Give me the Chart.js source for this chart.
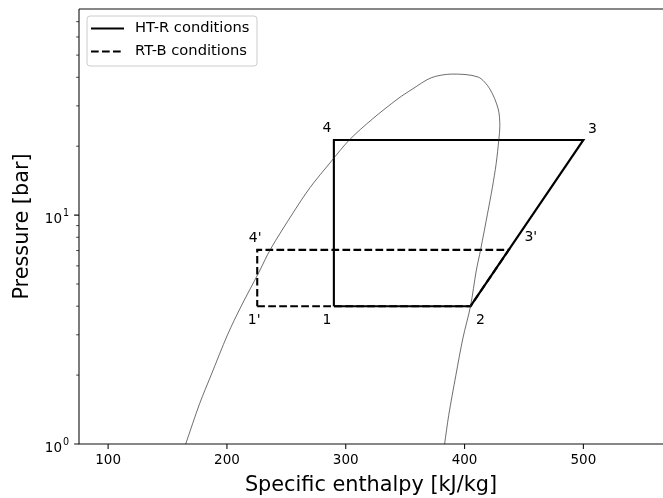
<!DOCTYPE html>
<html>
<head>
<meta charset="utf-8">
<title>Pressure–enthalpy diagram</title>
<script src="https://cdn.jsdelivr.net/npm/chart.js@4.4.1/dist/chart.umd.min.js"></script>
<style>
  html, body { margin: 0; padding: 0; background: #fff; }
  #wrap { width: 663px; height: 498px; position: relative; }
</style>
</head>
<body>
<div id="wrap"><canvas id="ph"></canvas></div>
<script>
// Saturation dome (liquid side up to the top, then vapour side down)
const domeH = [165.3, 177.0, 186.7, 200.5, 212.0, 226.7, 236.7, 255.5, 270.0, 287.5, 303.0, 322.5, 343.8, 356.0, 371.9, 388.8,
               411.4, 421.2, 428.3, 429.7, 428.8, 426.6, 423.4, 419.4, 413.6, 409.8, 405.0, 398.6, 392.7, 386.6, 383.2];
const domeP = [1.0, 1.5, 2.0, 3.0, 4.0, 5.6, 7.1, 10.2, 13.2, 17.1, 21.3, 26.3, 32.2, 35.5, 39.8, 41.3,
               40.1, 35.6, 29.1, 24.6, 21.3, 16.8, 13.2, 10.2, 7.1, 5.7, 4.0, 2.9, 2.0, 1.33, 1.0];

// HT-R cycle: 1 -> 2 -> 3 -> 4 -> 1
const htrH = [290, 405, 500, 290, 290];
const htrP = [4.0, 4.0, 21.3, 21.3, 4.0];

// RT-B cycle: 1' -> 2 -> 3' -> 4' -> 1'
const rtbH = [225.5, 405, 437.2, 225.5, 225.5];
const rtbP = [4.0, 4.0, 7.05, 7.05, 4.0];

// State point names with their (h, p)
const stateNames = ['1', '2', '3', '4', "1'", "3'", "4'"];
const stateH = [290, 405, 500, 290, 225.5, 437.2, 225.5];
const stateP = [4.0, 4.0, 21.3, 21.3, 4.0, 7.05, 7.05];

// Axis ticks
const xTicks = [100, 200, 300, 400, 500];
const yMajor = [1, 10];
const yMajorExp = ['0', '1'];
const yMinor = [2, 3, 4, 5, 6, 7, 8, 9, 20, 30, 40, 50, 60, 70, 80];

const seriesNames = ['HT-R conditions', 'RT-B conditions'];

const FONT = "'DejaVu Sans', 'Liberation Sans', sans-serif";
const DASH = [7.7, 3.3];
const INK = '#000000';

const toXY = (hs, ps) => hs.map((h, i) => ({ x: h, y: ps[i] }));

// text offsets (px) for the state labels
const labelOffsets = {
  '1': [-7, 14], '2': [10, 14], '3': [9, -11], '4': [-7, -12],
  "1'": [-3, 14], "3'": [22, -12], "4'": [-2, -11]
};

const decor = {
  id: 'decor',
  afterDatasetsDraw(chart) {
    const { ctx, chartArea: a, scales: { x, y } } = chart;
    ctx.save();
    // spines: left, bottom, top
    ctx.strokeStyle = '#111';
    ctx.lineWidth = 1.1;
    ctx.beginPath();
    ctx.moveTo(a.left, a.top);
    ctx.lineTo(a.right, a.top);
    ctx.moveTo(a.left, a.top);
    ctx.lineTo(a.left, a.bottom);
    ctx.lineTo(a.right, a.bottom);
    ctx.stroke();

    // tick marks
    ctx.beginPath();
    xTicks.forEach(v => {
      const px = x.getPixelForValue(v);
      ctx.moveTo(px, a.bottom);
      ctx.lineTo(px, a.bottom + 4.9);
    });
    yMajor.forEach(v => {
      const py = y.getPixelForValue(v);
      ctx.moveTo(a.left - 4.9, py);
      ctx.lineTo(a.left, py);
    });
    ctx.stroke();
    ctx.lineWidth = 0.8;
    ctx.beginPath();
    yMinor.forEach(v => {
      if (v > y.max) return;
      const py = y.getPixelForValue(v);
      ctx.moveTo(a.left - 2.8, py);
      ctx.lineTo(a.left, py);
    });
    ctx.stroke();

    // decade labels on the log axis: base with a raised exponent
    ctx.fillStyle = INK;
    ctx.textBaseline = 'alphabetic';
    yMajor.forEach((v, i) => {
      const py = y.getPixelForValue(v);
      ctx.font = `13.5px ${FONT}`;
      ctx.textAlign = 'right';
      ctx.fillText('10', 62, py + 8);
      ctx.font = `9.6px ${FONT}`;
      ctx.textAlign = 'left';
      ctx.fillText(yMajorExp[i], 63, py + 1);
    });

    // state point labels
    ctx.font = `14px ${FONT}`;
    ctx.textAlign = 'center';
    ctx.textBaseline = 'middle';
    stateNames.forEach((n, i) => {
      const [dx, dy] = labelOffsets[n];
      ctx.fillText(n, x.getPixelForValue(stateH[i]) + dx, y.getPixelForValue(stateP[i]) + dy);
    });

    // legend box
    const bx = 87, by = 16, bw = 170, bh = 50, r = 3;
    ctx.beginPath();
    ctx.moveTo(bx + r, by);
    ctx.arcTo(bx + bw, by, bx + bw, by + bh, r);
    ctx.arcTo(bx + bw, by + bh, bx, by + bh, r);
    ctx.arcTo(bx, by + bh, bx, by, r);
    ctx.arcTo(bx, by, bx + bw, by, r);
    ctx.closePath();
    ctx.fillStyle = 'rgba(255,255,255,0.8)';
    ctx.fill();
    ctx.strokeStyle = '#cccccc';
    ctx.lineWidth = 1;
    ctx.stroke();

    const rows = [28.5, 51.5];
    ctx.strokeStyle = INK;
    ctx.lineWidth = 2.1;
    rows.forEach((ry, i) => {
      ctx.setLineDash(i === 0 ? [] : DASH);
      ctx.beginPath();
      ctx.moveTo(91, ry);
      ctx.lineTo(124, ry);
      ctx.stroke();
    });
    ctx.setLineDash([]);
    ctx.fillStyle = INK;
    ctx.font = `14.7px ${FONT}`;
    ctx.textAlign = 'left';
    ctx.textBaseline = 'middle';
    rows.forEach((ry, i) => ctx.fillText(seriesNames[i], 135, ry));
    ctx.restore();
  }
};

Chart.defaults.font.family = FONT;
Chart.defaults.color = INK;

new Chart(document.getElementById('ph'), {
  type: 'scatter',
  data: {
    datasets: [
      {
        label: 'saturation',
        data: toXY(domeH, domeP),
        showLine: true,
        borderColor: 'rgba(40,40,40,0.85)',
        borderWidth: 0.8,
        pointRadius: 0,
        tension: 0.3,
        order: 0
      },
      {
        label: seriesNames[0],
        data: toXY(htrH, htrP),
        showLine: true,
        borderColor: INK,
        borderWidth: 2.1,
        pointRadius: 0,
        tension: 0,
        order: 2
      },
      {
        label: seriesNames[1],
        data: toXY(rtbH, rtbP),
        showLine: true,
        borderColor: INK,
        borderWidth: 2.1,
        borderDash: DASH,
        pointRadius: 0,
        tension: 0,
        order: 1
      }
    ]
  },
  options: {
    responsive: true,
    maintainAspectRatio: false,
    animation: false,
    devicePixelRatio: 1,
    layout: { padding: { top: 9, right: 0, left: 0, bottom: 0 } },
    plugins: { legend: { display: false }, tooltip: { enabled: false } },
    scales: {
      x: {
        type: 'linear',
        min: 75.5,
        max: 567,
        grid: { display: false, drawTicks: false },
        border: { display: false },
        afterBuildTicks: s => { s.ticks = xTicks.map(v => ({ value: v })); },
        afterFit: s => { s.height = 54; s.paddingLeft = 0; s.paddingRight = 0; },
        ticks: {
          autoSkip: false, maxRotation: 0, padding: 8,
          font: { size: 13.5 }, color: INK,
          callback: v => String(v)
        },
        title: {
          display: true, text: 'Specific enthalpy [kJ/kg]',
          font: { size: 20.8 }, color: INK,
          padding: { top: 0, bottom: 0 }
        }
      },
      y: {
        type: 'logarithmic',
        min: 1,
        max: 79.5,
        grid: { display: false, drawTicks: false },
        border: { display: false },
        afterBuildTicks: s => { s.ticks = yMajor.map(v => ({ value: v })); },
        afterFit: s => { s.width = 79; s.paddingTop = 0; s.paddingBottom = 0; },
        ticks: { display: false },
        title: {
          display: true, text: 'Pressure [bar]',
          font: { size: 20.8 }, color: INK,
          padding: { top: 10, bottom: 0 }
        }
      }
    }
  },
  plugins: [decor]
});
</script>
</body>
</html>
